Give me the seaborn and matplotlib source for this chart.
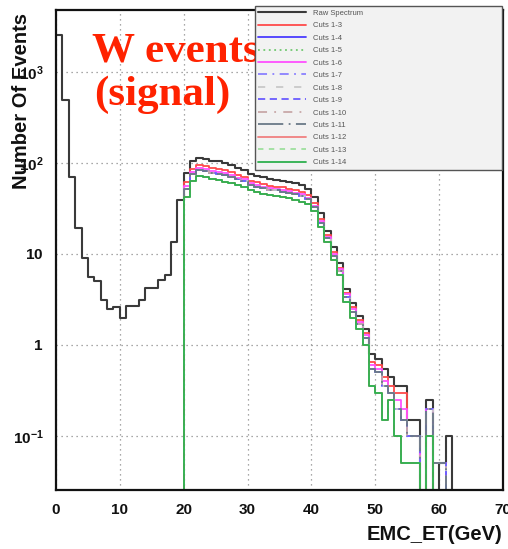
import numpy as np
import pandas as pd
import matplotlib
matplotlib.use("Agg")
import matplotlib.pyplot as plt
import seaborn as sns
from matplotlib.ticker import MultipleLocator, LogLocator, NullFormatter

sns.set_theme(style="white")
plt.rcParams["font.family"] = ["Liberation Sans", "DejaVu Sans"]
plt.rcParams["mathtext.fontset"] = "custom"
plt.rcParams["mathtext.rm"] = "Liberation Sans:bold"
plt.rcParams["mathtext.bf"] = "Liberation Sans:bold"
plt.rcParams["mathtext.it"] = "Liberation Sans:bold:italic"

# 1 GeV bins of EMC transverse energy, 0-70 GeV
bin_edges = list(range(0, 71))

# Raw spectrum, all 70 bins
raw_spectrum = [2550, 490, 70, 19.5, 9.1, 5.6, 5.0, 3.1, 2.5, 2.6,
                2.0, 2.7, 2.7, 3.1, 4.2, 4.2, 5.2, 5.9, 13.5, 39,
                78, 106, 113, 110, 106, 104, 100, 95, 88, 84,
                76, 72, 70, 67, 65, 64, 62, 60, 57, 52,
                42, 28, 18, 12, 8.0, 4.1, 2.9, 2.1, 1.5, 0.8,
                0.7, 0.55, 0.45, 0.35, 0.35, 0.15, 0.15, 0, 0.25, 0,
                0.05, 0.1, 0, 0, 0, 0, 0, 0, 0, 0]

# After the ET > 20 GeV cut: bins 20-69 only
cuts_1_3 = [62, 86, 95, 92, 88, 86, 83, 79, 74, 70,
            64, 61, 59, 56, 55, 54, 52, 50, 48, 44,
            36, 24, 16, 10.5, 7.0, 3.7, 2.6, 1.9, 1.35, 0.65,
            0.6, 0.45, 0.35, 0.3, 0.3, 0.1, 0.1, 0, 0.2, 0.05,
            0.05, 0, 0, 0, 0, 0, 0, 0, 0, 0]
cuts_1_4 = [52, 76, 84, 82, 78, 76, 73, 70, 66, 63,
            57, 55, 53, 51, 50, 48, 47, 45, 43, 40,
            33, 22, 15, 9.6, 6.5, 3.4, 2.3, 1.7, 1.2, 0.55,
            0.5, 0.35, 0.3, 0.2, 0.15, 0.1, 0.1, 0, 0.2, 0.05,
            0.05, 0, 0, 0, 0, 0, 0, 0, 0, 0]
cuts_1_6 = [56, 80, 88, 86, 82, 80, 77, 74, 69, 66,
            60, 57, 55, 53, 52, 50, 49, 47, 45, 41,
            34, 23, 15.5, 10, 6.8, 3.6, 2.5, 1.8, 1.3, 0.6,
            0.55, 0.4, 0.3, 0.25, 0.2, 0.1, 0.1, 0, 0.2, 0.05,
            0.05, 0, 0, 0, 0, 0, 0, 0, 0, 0]
cuts_1_14 = [42, 63, 72, 70, 67, 65, 62, 60, 57, 54,
             50, 48, 46, 44, 43, 42, 41, 39, 37, 35,
             30, 20, 13.5, 8.5, 5.8, 3.0, 2.0, 1.5, 1.0, 0.35,
             0.3, 0.15, 0.25, 0.1, 0.05, 0.05, 0.05, 0, 0.1, 0,
             0, 0, 0, 0, 0, 0, 0, 0, 0, 0]

legend_labels = ["Raw Spectrum", "Cuts 1-3", "Cuts 1-4", "Cuts 1-5", "Cuts 1-6",
                 "Cuts 1-7", "Cuts 1-8", "Cuts 1-9", "Cuts 1-10", "Cuts 1-11",
                 "Cuts 1-12", "Cuts 1-13", "Cuts 1-14"]

below_cut = np.zeros(20)
series = {
    "Raw Spectrum": np.asarray(raw_spectrum, float),
    "Cuts 1-3": np.concatenate([below_cut, cuts_1_3]),
    "Cuts 1-4": np.concatenate([below_cut, cuts_1_4]),
    "Cuts 1-5": np.concatenate([below_cut, cuts_1_4]),
    "Cuts 1-6": np.concatenate([below_cut, cuts_1_6]),
    "Cuts 1-7": np.concatenate([below_cut, cuts_1_4]),
    "Cuts 1-8": np.concatenate([below_cut, cuts_1_4]),
    "Cuts 1-9": np.concatenate([below_cut, cuts_1_4]),
    "Cuts 1-10": np.concatenate([below_cut, cuts_1_4]),
    "Cuts 1-11": np.concatenate([below_cut, cuts_1_4]),
    "Cuts 1-12": np.concatenate([below_cut, cuts_1_14]),
    "Cuts 1-13": np.concatenate([below_cut, cuts_1_14]),
    "Cuts 1-14": np.concatenate([below_cut, cuts_1_14]),
}

styles = {
    "Raw Spectrum": dict(color="#3a3a3a", linestyle="-", linewidth=1.5),
    "Cuts 1-3": dict(color="#ff4a4a", linestyle="-", linewidth=1.3),
    "Cuts 1-4": dict(color="#4a3cff", linestyle="-", linewidth=1.3),
    "Cuts 1-5": dict(color="#70c870", linestyle=(0, (1, 2)), linewidth=1.3),
    "Cuts 1-6": dict(color="#ff50ff", linestyle="-", linewidth=1.3),
    "Cuts 1-7": dict(color="#8a80ff", linestyle=(0, (5, 3, 1, 3)), linewidth=1.3),
    "Cuts 1-8": dict(color="#c8c8c8", linestyle=(0, (4, 6)), linewidth=1.3),
    "Cuts 1-9": dict(color="#6a5cff", linestyle=(0, (4, 2.5)), linewidth=1.3),
    "Cuts 1-10": dict(color="#c8a8a8", linestyle=(0, (5, 4, 1, 4)), linewidth=1.3),
    "Cuts 1-11": dict(color="#6a7a88", linestyle=(0, (14, 3, 1, 3)), linewidth=1.3),
    "Cuts 1-12": dict(color="#f08080", linestyle="-", linewidth=1.3),
    "Cuts 1-13": dict(color="#9ee09e", linestyle=(0, (3, 3)), linewidth=1.3),
    "Cuts 1-14": dict(color="#2fb04f", linestyle="-", linewidth=1.3),
}

W, H = 508, 549
fig = plt.figure(figsize=(W / 100, H / 100), dpi=100)
fig.patch.set_facecolor("white")
ax = fig.add_axes([56 / W, 59 / H, 447 / W, 480 / H])
ax.set_facecolor("white")

bin_centers = np.asarray(bin_edges[:-1], float) + 0.5
handles = []
for name in legend_labels:
    frame = pd.DataFrame({"et": bin_centers, "weight": series[name]})
    sns.histplot(data=frame, x="et", weights="weight", bins=bin_edges,
                 element="step", fill=False, ax=ax, label=name, **styles[name])
    handles.append(ax.lines[-1])

ax.set_yscale("log")
ax.set_xlim(0, 70)
ax.set_ylim(10 ** -1.593, 10 ** 3.68)

# ROOT-like axes
ax.set_axisbelow(True)
ax.grid(True, which="major", linestyle=(0, (1, 3)), color="#8c8c8c", linewidth=0.9)
ax.xaxis.set_major_locator(MultipleLocator(10))
ax.xaxis.set_minor_locator(MultipleLocator(2))
ax.yaxis.set_minor_locator(LogLocator(base=10, subs=np.arange(2, 10)))
ax.yaxis.set_minor_formatter(NullFormatter())
ax.set_yticks([0.1, 1, 10, 100, 1000])
ax.set_yticklabels([r"$10^{-1}$", r"$1$", r"$10$", r"$10^{2}$", r"$10^{3}$"])
ax.set_xticks(range(0, 71, 10))
ax.set_xticklabels([str(v) for v in range(0, 71, 10)])
ax.tick_params(axis="both", which="major", direction="in", length=9, width=1.2,
               labelsize=11, colors="#111111", top=False, right=False)
ax.tick_params(axis="both", which="minor", direction="in", length=5, width=1.0,
               top=False, right=False)
ax.tick_params(axis="y", which="major", pad=9)
ax.tick_params(axis="x", which="major", pad=9)
for lab in ax.get_xticklabels() + ax.get_yticklabels():
    lab.set_fontweight("bold")
for sp in ax.spines.values():
    sp.set_color("#111111")
    sp.set_linewidth(1.6)
ax.set_xlabel("")
ax.set_ylabel("")

fig.text(22 / W, 1 - 101 / H, "Number Of Events", rotation=90, ha="center", va="center",
         fontsize=14.5, fontweight="bold", color="#111111")
fig.text(502 / W, 1 - 535 / H, "EMC_ET(GeV)", ha="right", va="center",
         fontsize=14.5, fontweight="bold", color="#111111")

fig.text(92 / W, 1 - 61 / H, "W events", ha="left", va="baseline",
         fontsize=31, fontweight="bold", family="Liberation Serif", color="#ff2200")
fig.text(94 / W, 1 - 105 / H, "(signal)", ha="left", va="baseline",
         fontsize=31, fontweight="bold", family="Liberation Serif", color="#ff2200")

leg = fig.legend(handles, legend_labels, loc="upper left",
                 bbox_to_anchor=(255 / W, 1 - 168 / H, 247 / W, 162 / H),
                 bbox_transform=fig.transFigure, mode="expand",
                 fontsize=5.5, handlelength=6.2, handletextpad=1.0,
                 labelspacing=0.67, borderpad=0.45, borderaxespad=0,
                 frameon=True, fancybox=False, framealpha=1,
                 facecolor="#f2f2f2", edgecolor="#555555", labelcolor="#555555")
leg.get_frame().set_linewidth(1.0)

fig.savefig("out.png", dpi=100)
